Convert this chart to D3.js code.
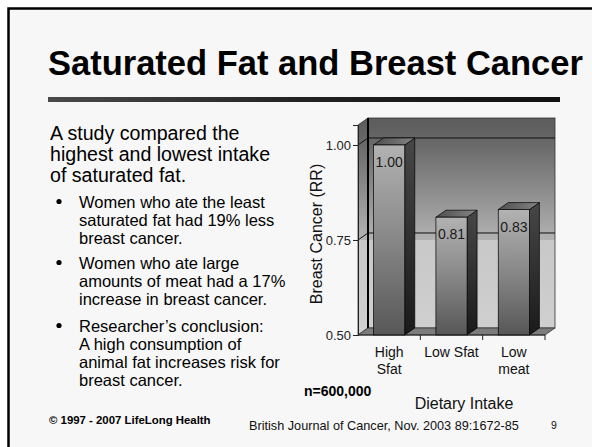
<!DOCTYPE html>
<html>
<head>
<meta charset="utf-8">
<script src="https://cdn.jsdelivr.net/npm/d3@7"></script>
<style>
  body { margin: 0; background: #fff; }
  svg { display: block; font-family: "Liberation Sans", Arial, sans-serif; }
</style>
</head>
<body>
<div id="chart"></div>
<script>
// chart values
var categories = ["High Sfat", "Low Sfat", "Low meat"],
  categoryLines = [["High", "Sfat"], ["Low Sfat"], ["Low", "meat"]],
  values = [1.00, 0.81, 0.83],
  valueLabels = ["1.00", "0.81", "0.83"],
  yTicks = [0.50, 0.75, 1.00];

var titleText = "Saturated Fat and Breast Cancer",
  introLines = ["A study compared the", "highest and lowest intake", "of saturated fat."],
  bullets = [
    ["Women who ate the least", "saturated fat had 19% less", "breast cancer."],
    ["Women who ate large", "amounts of meat had a 17%", "increase in breast cancer."],
    ["Researcher\u2019s conclusion:", "A high consumption of", "animal fat increases risk for", "breast cancer."]
  ];

var svg_dx = 592,
  svg_dy = 447,
  depth = { dx: 10, dy: -7 };

var svg = d3.select("#chart")
  .append("svg")
  .attr("width", svg_dx)
  .attr("height", svg_dy);

var defs = svg.append("defs");

function linGrad(id, x1, y1, x2, y2, stops, units) {
  var g = defs.append("linearGradient")
    .attr("id", id)
    .attr("x1", x1).attr("y1", y1).attr("x2", x2).attr("y2", y2);
  if (units) g.attr("gradientUnits", units);
  stops.forEach(function(s) {
    g.append("stop").attr("offset", s[0]).attr("stop-color", s[1]);
  });
}

// slide frame
svg.append("rect")
  .attr("x", 8.5).attr("y", 8.5)
  .attr("width", 700).attr("height", 600)
  .attr("fill", "#f7f7f7")
  .attr("stroke", "#000")
  .attr("stroke-width", 2.5);

// title
svg.append("text")
  .attr("x", 48).attr("y", 75)
  .attr("font-size", 34.5)
  .attr("font-weight", "bold")
  .attr("fill", "#000")
  .text(titleText);

linGrad("ruleGrad", 0, 0, 1, 0, [[0, "#4a4a4a"], [0.5, "#222"], [1, "#111"]]);
svg.append("rect")
  .attr("x", 48).attr("y", 97)
  .attr("width", 512).attr("height", 5)
  .attr("fill", "url(#ruleGrad)");

// left text
var body = svg.append("g").attr("fill", "#000");
introLines.forEach(function(t, i) {
  body.append("text")
    .attr("x", 50).attr("y", 140 + i * 21)
    .attr("font-size", 19.6)
    .text(t);
});

var lineY = 207.5;
bullets.forEach(function(b, bi) {
  body.append("circle")
    .attr("cx", 59).attr("cy", lineY - 6)
    .attr("r", 2.6);
  b.forEach(function(t) {
    body.append("text")
      .attr("x", 79).attr("y", lineY)
      .attr("font-size", 16.5)
      .text(t);
    lineY += 18;
  });
  lineY += bi == 0 ? 7 : 9;
});

// ---- chart ----
var xScale = d3.scaleBand()
  .domain(categories)
  .range([358, 545])
  .paddingInner(0.5)
  .paddingOuter(0.25);

var yScale = d3.scaleLinear()
  .domain([0.5, 1.0526])
  .range([335, 125]);

var x0 = xScale.range()[0],
  x1 = xScale.range()[1],
  yb = yScale(0.5),
  yt = yScale.range()[1];

// wall fill: dark band above 1.00, gradient band, light below 0.75
linGrad("wallGrad", 0, yt, 0, yb, [
  [0, "#5e5e5e"],
  [(yScale(1.0) - yt) / (yb - yt), "#6a6a6a"],
  [(yScale(0.75) - yt) / (yb - yt) - 0.001, "#b2b2b2"],
  [(yScale(0.75) - yt) / (yb - yt), "#c8c8c8"],
  [1, "#d0d0d0"]
], "userSpaceOnUse");

var chart = svg.append("g");

// back wall
chart.append("rect")
  .attr("x", x0 + depth.dx).attr("y", yt + depth.dy)
  .attr("width", x1 - x0).attr("height", yb - yt)
  .attr("fill", "url(#wallGrad)")
  .attr("stroke", "#333")
  .attr("stroke-width", 0.8);

// side wall
chart.append("polygon")
  .attr("points", [
    [x0, yt], [x0 + depth.dx, yt + depth.dy],
    [x0 + depth.dx, yb + depth.dy], [x0, yb]
  ].join(" "))
  .attr("fill", "url(#wallGrad)")
  .attr("stroke", "#333")
  .attr("stroke-width", 0.8);

// gridlines
yTicks.filter(function(d) { return d > 0.5; }).forEach(function(d) {
  var gy = yScale(d);
  chart.append("polyline")
    .attr("points", [[x0, gy], [x0 + depth.dx, gy + depth.dy], [x1 + depth.dx, gy + depth.dy]].join(" "))
    .attr("fill", "none")
    .attr("stroke", "#111")
    .attr("stroke-width", 1);
});

// back corner edge
chart.append("line")
  .attr("x1", x0 + depth.dx).attr("x2", x0 + depth.dx)
  .attr("y1", yt + depth.dy).attr("y2", yb + depth.dy)
  .attr("stroke", "#000")
  .attr("stroke-width", 2);

// floor
chart.append("polygon")
  .attr("points", [
    [x0, yb], [x1, yb], [x1 + depth.dx, yb + depth.dy], [x0 + depth.dx, yb + depth.dy]
  ].join(" "))
  .attr("fill", "#7c7c7c")
  .attr("stroke", "#333")
  .attr("stroke-width", 0.8);

// bars
linGrad("frontGrad", 0, 0, 0, 1, [[0, "#b2b2b2"], [0.45, "#8c8c8c"], [1, "#575757"]]);
linGrad("sideGrad", 0, 0, 0, 1, [[0, "#474747"], [1, "#1a1a1a"]]);
linGrad("topGrad", 0, 0, 1, 0, [[0, "#4e4e4e"], [1, "#858585"]]);

var bars = chart.selectAll(".bar")
  .data(values)
  .enter()
  .append("g")
  .attr("class", "bar");

bars.append("polygon")
  .attr("points", function(d, i) {
    var bx = xScale(categories[i]) + xScale.bandwidth(), by = yScale(d);
    return [[bx, by], [bx + depth.dx, by + depth.dy], [bx + depth.dx, yb + depth.dy], [bx, yb]].join(" ");
  })
  .attr("fill", "url(#sideGrad)")
  .attr("stroke", "#000")
  .attr("stroke-width", 0.7);

bars.append("polygon")
  .attr("points", function(d, i) {
    var bx = xScale(categories[i]), bw = xScale.bandwidth(), by = yScale(d);
    return [[bx, by], [bx + depth.dx, by + depth.dy], [bx + bw + depth.dx, by + depth.dy], [bx + bw, by]].join(" ");
  })
  .attr("fill", "url(#topGrad)")
  .attr("stroke", "#000")
  .attr("stroke-width", 0.7);

bars.append("rect")
  .attr("x", function(d, i) { return xScale(categories[i]); })
  .attr("y", function(d) { return yScale(d); })
  .attr("width", xScale.bandwidth())
  .attr("height", function(d) { return yb - yScale(d); })
  .attr("fill", "url(#frontGrad)")
  .attr("stroke", "#000")
  .attr("stroke-width", 0.7);

bars.append("text")
  .attr("x", function(d, i) { return xScale(categories[i]) + xScale.bandwidth() / 2; })
  .attr("y", function(d) { return yScale(d) + 22; })
  .attr("text-anchor", "middle")
  .attr("font-size", 14)
  .attr("fill", "#1a1a1a")
  .text(function(d, i) { return valueLabels[i]; });

// y axis
var axis_y = d3.axisLeft(yScale)
  .tickValues(yTicks)
  .tickFormat(d3.format(".2f"))
  .tickSizeOuter(0)
  .tickSize(5)
  .tickPadding(2);

svg.append("g")
  .attr("transform", "translate(" + x0 + ",0)")
  .call(axis_y)
  .call(function(g) {
    g.selectAll("text").attr("font-size", 13).attr("fill", "#222")
      .attr("font-family", "Liberation Sans, Arial, sans-serif");
    g.selectAll("line, path").attr("stroke", "#222");
  });

// x axis line and boundary ticks
var xg = svg.append("g");
xg.append("line")
  .attr("x1", x0).attr("x2", x1)
  .attr("y1", yb).attr("y2", yb)
  .attr("stroke", "#222");
categories.forEach(function(c) {
  var tx = xScale(c) + xScale.bandwidth() + xScale.step() * xScale.paddingInner() / 2;
  xg.append("line")
    .attr("x1", tx).attr("x2", tx)
    .attr("y1", yb).attr("y2", yb + 5)
    .attr("stroke", "#222");
});

xg.selectAll(".xlab")
  .data(categoryLines)
  .enter()
  .append("text")
  .attr("class", "xlab")
  .attr("text-anchor", "middle")
  .attr("font-size", 14)
  .attr("fill", "#111")
  .each(function(lines, i) {
    var cx = xScale(categories[i]) + xScale.bandwidth() / 2;
    lines.forEach(function(l, j) {
      d3.select(this).append("tspan")
        .attr("x", cx)
        .attr("y", 357 + j * 17)
        .text(l);
    }, this);
  });

// axis titles
svg.append("text")
  .attr("transform", "translate(322," + 234 + ") rotate(-90)")
  .attr("text-anchor", "middle")
  .attr("font-size", 16)
  .attr("fill", "#111")
  .text("Breast Cancer (RR)");

svg.append("text")
  .attr("x", 464).attr("y", 409)
  .attr("text-anchor", "middle")
  .attr("font-size", 16)
  .attr("fill", "#111")
  .text("Dietary Intake");

svg.append("text")
  .attr("x", 304).attr("y", 396)
  .attr("font-size", 14)
  .attr("font-weight", "bold")
  .text("n=600,000");

// footer
svg.append("text")
  .attr("x", 49).attr("y", 424)
  .attr("font-size", 11.4)
  .attr("font-weight", "bold")
  .text("\u00a9 1997 - 2007 LifeLong Health");

svg.append("text")
  .attr("x", 249).attr("y", 430)
  .attr("font-size", 12.7)
  .attr("fill", "#111")
  .text("British Journal of Cancer, Nov. 2003 89:1672-85");

svg.append("text")
  .attr("x", 551).attr("y", 429)
  .attr("font-size", 10.5)
  .attr("fill", "#111")
  .text("9");
</script>
</body>
</html>
